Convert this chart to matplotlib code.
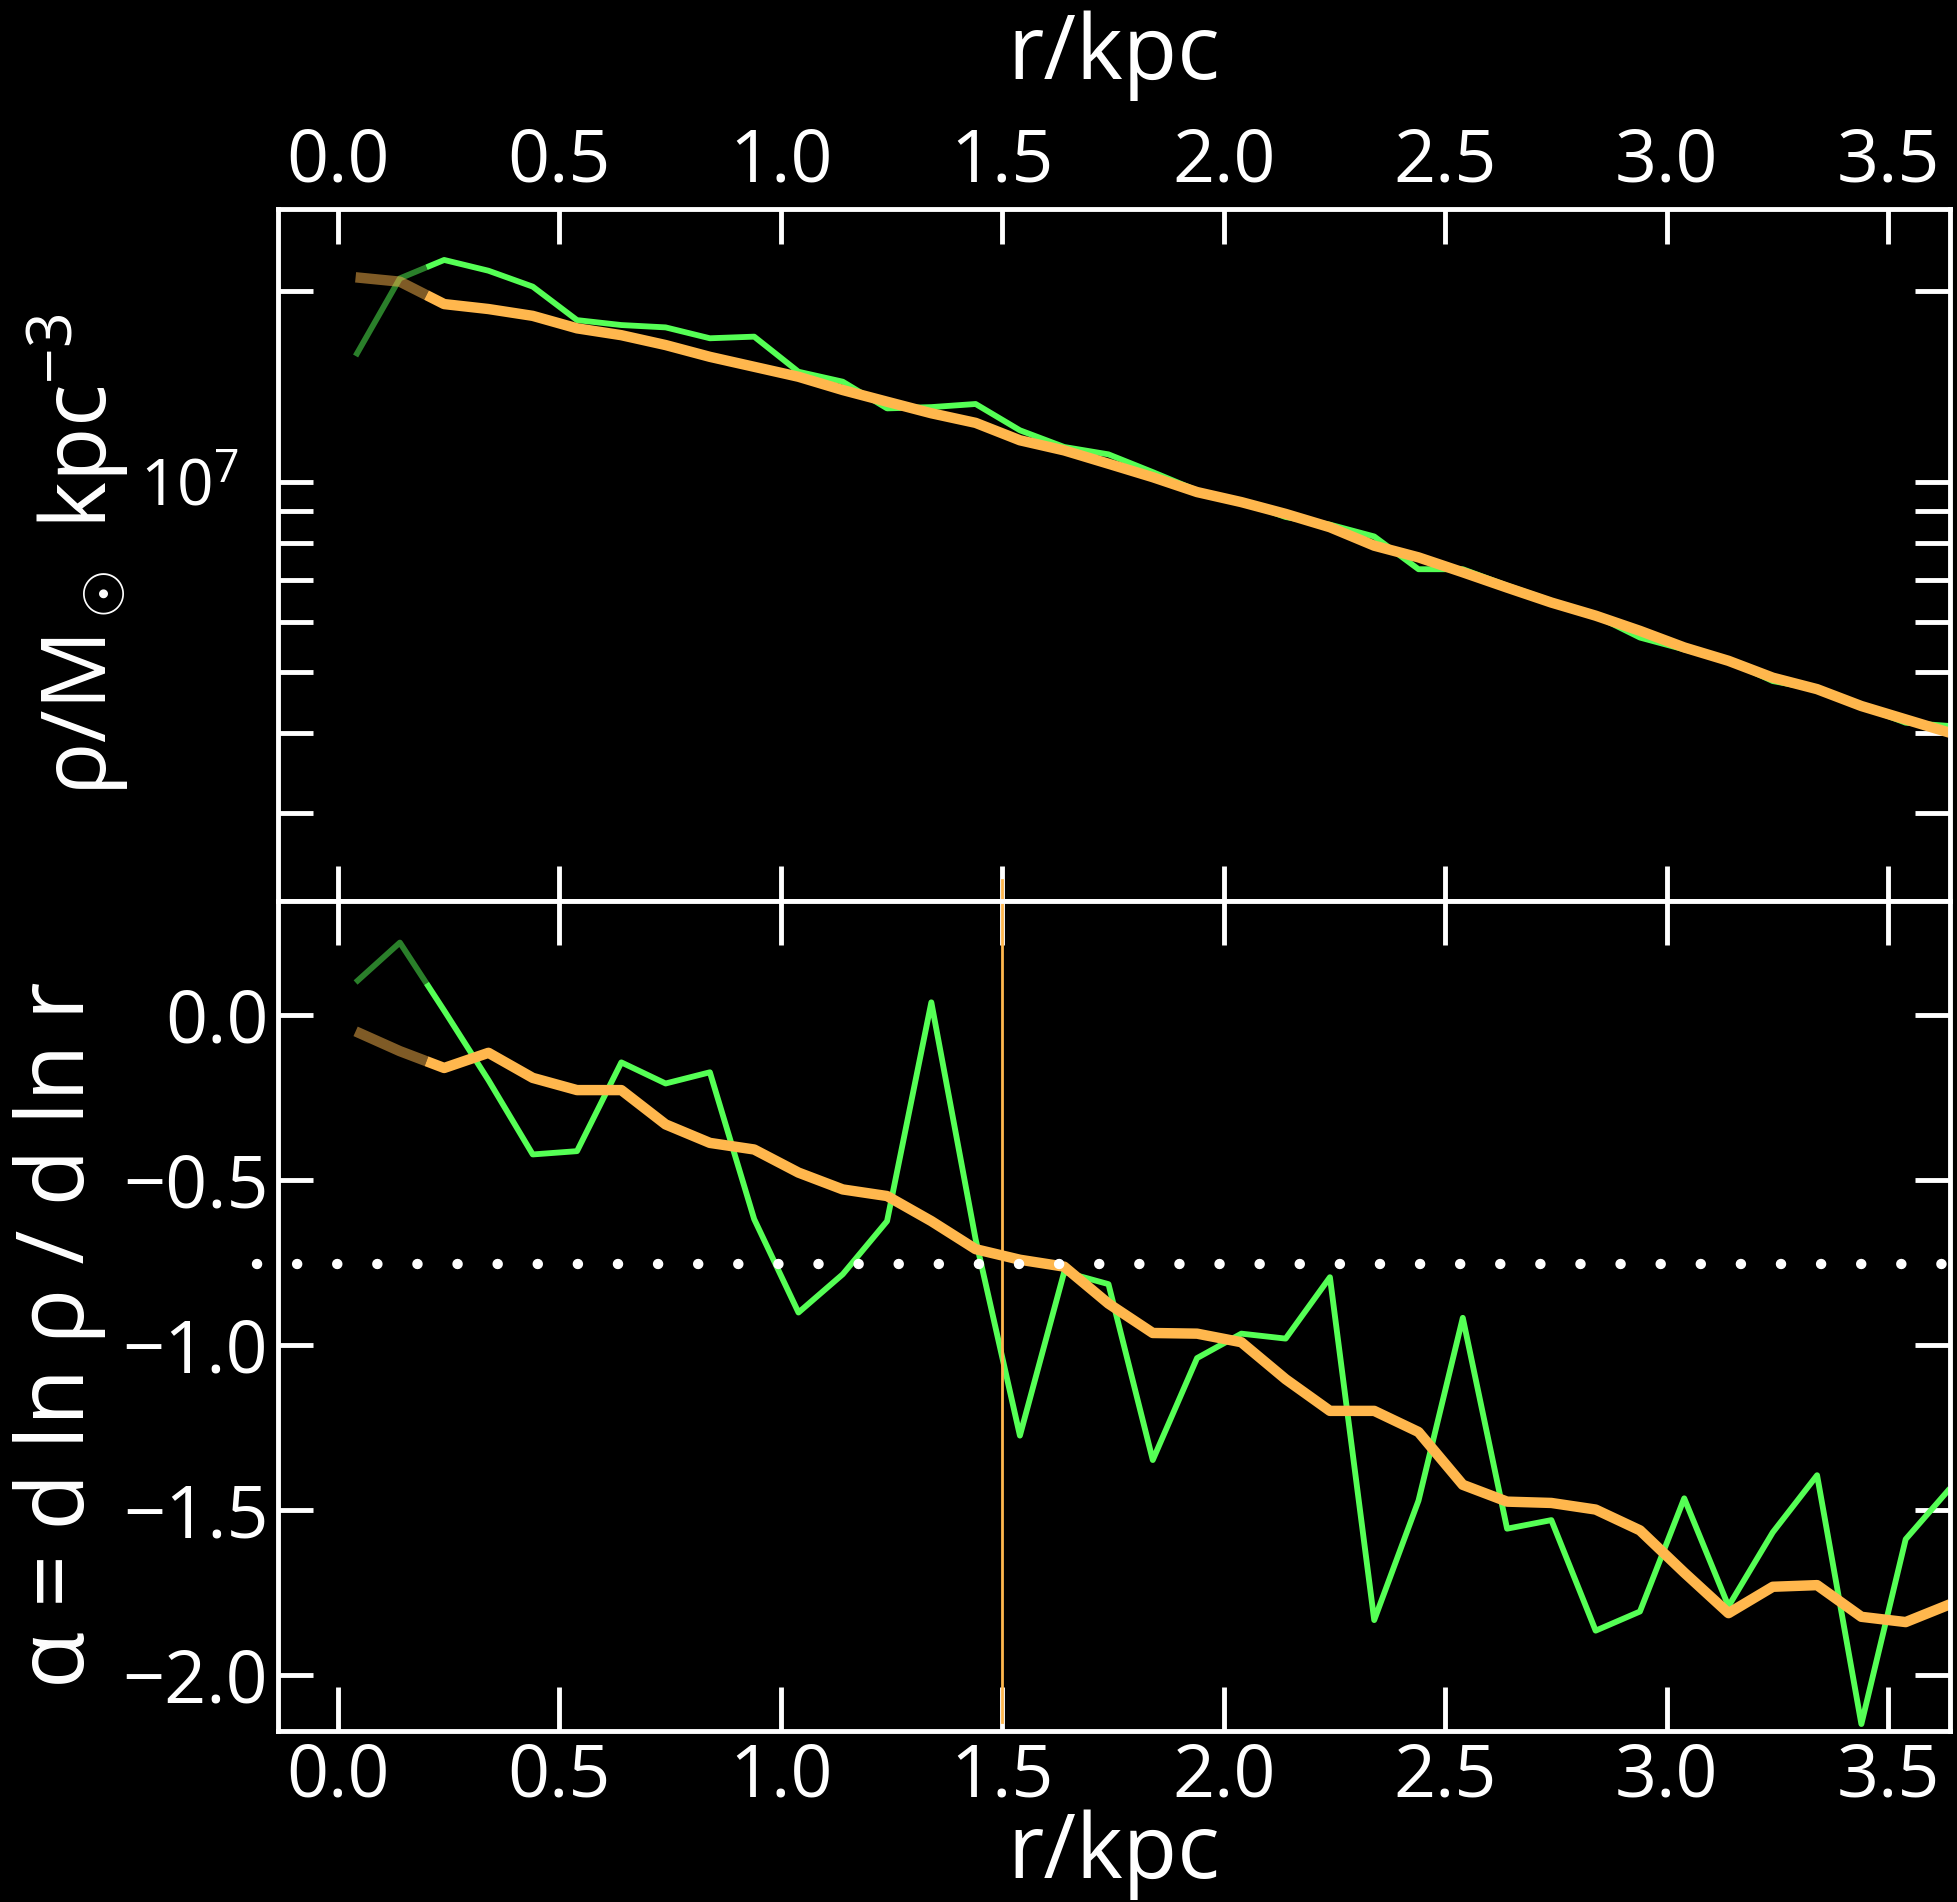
import numpy as np
import matplotlib
matplotlib.use('Agg')
import matplotlib.pyplot as plt
from matplotlib.ticker import MultipleLocator, LogLocator, NullFormatter

# radial bins (kpc)
r_kpc = [0.04, 0.14, 0.24, 0.34, 0.44, 0.54, 0.64, 0.74, 0.84, 0.94,
         1.04, 1.14, 1.24, 1.34, 1.44, 1.54, 1.64, 1.74, 1.84, 1.94,
         2.04, 2.14, 2.24, 2.34, 2.44, 2.54, 2.64, 2.74, 2.84, 2.94,
         3.04, 3.14, 3.24, 3.34, 3.44, 3.54, 3.64]

# density of the raw profile and of the smoothed profile (Msun / kpc^3)
rho_raw = [1.579e7, 2.094e7, 2.239e7, 2.153e7, 2.032e7, 1.799e7, 1.767e7, 1.752e7,
           1.684e7, 1.694e7, 1.491e7, 1.438e7, 1.305e7, 1.311e7, 1.326e7, 1.205e7,
           1.134e7, 1.104e7, 1.035e7, 9.68e6, 9.31e6, 8.79e6, 8.55e6, 8.19e6,
           7.27e6, 7.27e6, 6.85e6, 6.48e6, 6.14e6, 5.67e6, 5.43e6, 5.21e6,
           4.84e6, 4.70e6, 4.42e6, 4.16e6, 4.11e6]
rho_smooth = [2.102e7, 2.069e7, 1.907e7, 1.873e7, 1.827e7, 1.746e7, 1.703e7, 1.643e7,
              1.574e7, 1.518e7, 1.464e7, 1.395e7, 1.337e7, 1.282e7, 1.238e7, 1.162e7,
              1.120e7, 1.067e7, 1.016e7, 9.625e6, 9.28e6, 8.89e6, 8.47e6, 7.92e6,
              7.59e6, 7.19e6, 6.80e6, 6.44e6, 6.14e6, 5.81e6, 5.47e6, 5.21e6,
              4.90e6, 4.70e6, 4.42e6, 4.21e6, 4.01e6]

# logarithmic slope alpha = dln rho / dln r
alpha_raw = [0.098, 0.219, 0.013, -0.198, -0.423, -0.413, -0.144, -0.208, -0.174,
             -0.619, -0.902, -0.786, -0.625, 0.038, -0.68, -1.275, -0.779, -0.816,
             -1.349, -1.040, -0.966, -0.981, -0.795, -1.834, -1.472, -0.918, -1.557,
             -1.531, -1.866, -1.808, -1.465, -1.792, -1.568, -1.395, -2.149, -1.589,
             -1.435]
alpha_smooth = [-0.05, -0.110, -0.161, -0.115, -0.191, -0.228, -0.228, -0.332, -0.388,
                -0.408, -0.478, -0.529, -0.549, -0.625, -0.710, -0.742, -0.763, -0.875,
                -0.964, -0.966, -0.992, -1.104, -1.200, -1.200, -1.264, -1.424, -1.475,
                -1.479, -1.499, -1.562, -1.690, -1.813, -1.733, -1.728, -1.824, -1.840,
                -1.786]

r_conv = 0.2        # below this radius the profile is shown faded
r_mark = 1.5        # marked radius
alpha_ref = -0.755  # reference slope

GREEN = '#55ff55'
ORANGE = '#ffb74d'

plt.rcParams['font.family'] = ['Open Sans', 'DejaVu Sans']
plt.rcParams['mathtext.fontset'] = 'custom'
plt.rcParams['mathtext.rm'] = 'Open Sans'
plt.rcParams['mathtext.it'] = 'Open Sans'
plt.rcParams['mathtext.bf'] = 'Open Sans:bold'
plt.rcParams['axes.unicode_minus'] = True

TICK_FS = 53
LABEL_FS = 64


def two_tone(ax, r, y, color, lw, log=False):
    """Plot a profile faded inside r_conv and solid outside."""
    r = np.asarray(r)
    y = np.asarray(y, dtype=float)
    k = np.searchsorted(r, r_conv)
    if log:
        y_mid = 10 ** np.interp(r_conv, r, np.log10(y))
    else:
        y_mid = np.interp(r_conv, r, y)
    ax.plot(np.r_[r[:k], r_conv], np.r_[y[:k], y_mid], color=color, lw=lw,
            alpha=0.5, solid_capstyle='butt')
    ax.plot(np.r_[r_conv, r[k:]], np.r_[y_mid, y[k:]], color=color, lw=lw,
            solid_capstyle='butt')


def style_axes(ax, xlen):
    ax.set_facecolor('black')
    for sp in ax.spines.values():
        sp.set_color('white')
        sp.set_linewidth(3.5)
    ax.tick_params(axis='both', which='both', direction='in', colors='white',
                   width=3.5, top=True, bottom=True, left=True, right=True,
                   labelsize=TICK_FS, pad=7)
    ax.tick_params(axis='x', which='both', length=xlen)
    ax.tick_params(axis='y', which='both', length=25)


fig = plt.figure(figsize=(19.57, 19.02), dpi=100, facecolor='black')
ax1 = fig.add_axes([0.1421, 0.52629, 0.8543, 0.36383])
ax2 = fig.add_axes([0.1421, 0.08991, 0.8543, 0.43638])

# density panel
two_tone(ax1, r_kpc, rho_raw, GREEN, 4.2, log=True)
two_tone(ax1, r_kpc, rho_smooth, ORANGE, 7.5, log=True)
ax1.set_yscale('log')
ax1.set_xlim(-0.135, 3.64)
ax1.set_ylim(2.175e6, 2.695e7)
style_axes(ax1, 25)
ax1.xaxis.set_major_locator(MultipleLocator(0.5))
ax1.yaxis.set_major_locator(LogLocator(base=10))
ax1.yaxis.set_minor_locator(LogLocator(base=10, subs=np.arange(2, 10)))
ax1.yaxis.set_minor_formatter(NullFormatter())
ax1.tick_params(axis='x', labeltop=True, labelbottom=False)
ax1.tick_params(axis='y', which='major', pad=28, labelsize=46)
ax1.xaxis.set_label_position('top')
ax1.set_xlabel('r/kpc', fontsize=LABEL_FS, color='white', labelpad=33)
ax1.set_ylabel(r'$\rho/\mathrm{M}_\odot\ \mathrm{kpc}^{-3}$', fontsize=LABEL_FS,
               color='white', labelpad=7)

# slope panel
two_tone(ax2, r_kpc, alpha_raw, GREEN, 4.2)
two_tone(ax2, r_kpc, alpha_smooth, ORANGE, 7.5)
ax2.axvline(r_mark, ymin=0.011, ymax=1.025, color=ORANGE, lw=2, clip_on=False)
ax2.plot([-0.183, 3.64], [alpha_ref, alpha_ref], color='white', lw=7.5,
         linestyle=(0, (0.01, 3.84)), dash_capstyle='round', clip_on=False)
ax2.set_xlim(-0.135, 3.64)
ax2.set_ylim(-2.17, 0.345)
style_axes(ax2, 32)
ax2.xaxis.set_major_locator(MultipleLocator(0.5))
ax2.yaxis.set_major_locator(MultipleLocator(0.5))
ax2.set_xlabel('r/kpc', fontsize=LABEL_FS, color='white', labelpad=-4)
ax2.set_ylabel('α = d ln ρ / d ln r', fontsize=67, color='white', labelpad=12)
ax2.yaxis.label.set_y(0.477)

fig.savefig('out.png', dpi=100, facecolor='black')
